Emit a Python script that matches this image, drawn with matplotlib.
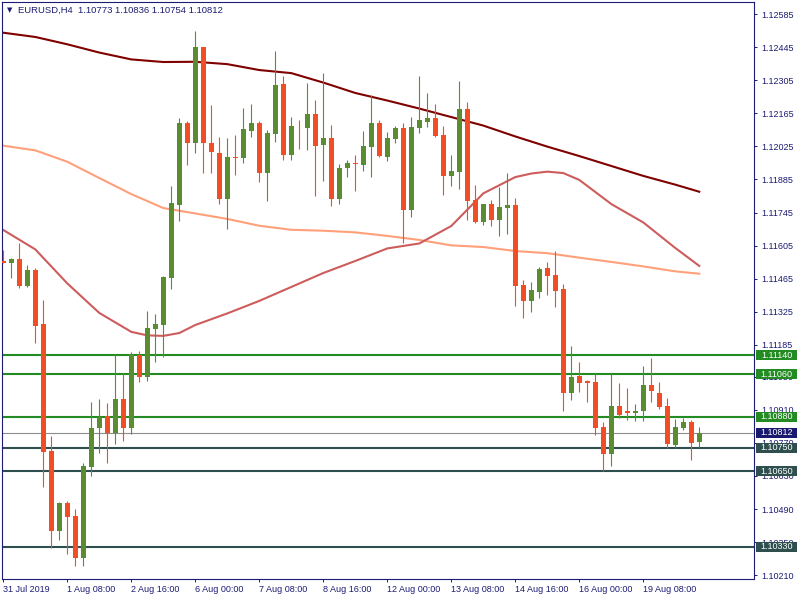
import matplotlib.pyplot as plt
import matplotlib.transforms as mtransforms
from matplotlib.patches import Rectangle

plt.rcParams['font.family'] = ['Liberation Sans', 'DejaVu Sans']

# EURUSD H4 candles, 31 Jul 2019 00:00 onwards
opens = [1.11540, 1.11530, 1.11548, 1.11436, 1.11502, 1.11273, 1.10736, 1.10399, 1.10516, 1.10461,
         1.10281, 1.10670, 1.10831, 1.10884, 1.10811, 1.10956, 1.10831, 1.11142, 1.11050, 1.11253,
         1.11271, 1.11469, 1.11777, 1.12124, 1.12040, 1.12445, 1.12039, 1.11999, 1.11802, 1.11980,
         1.11977, 1.12091, 1.12124, 1.11914, 1.12079, 1.12289, 1.11988, 1.12108, 1.12104, 1.12162,
         1.12032, 1.12060, 1.11804, 1.11933, 1.11953, 1.11945, 1.12024, 1.12124, 1.11982, 1.12057,
         1.12103, 1.11757, 1.12104, 1.12128, 1.12145, 1.12073, 1.11901, 1.11918, 1.12183, 1.11799,
         1.11706, 1.11781, 1.11715, 1.11765, 1.11777, 1.11439, 1.11372, 1.11410, 1.11510, 1.11481,
         1.11422, 1.10983, 1.11053, 1.11032, 1.11028, 1.10838, 1.10725, 1.10926, 1.10907, 1.10898,
         1.10903, 1.11015, 1.10982, 1.10926, 1.10761, 1.10835, 1.10859, 1.10773]
highs = [1.11586, 1.11553, 1.11615, 1.11523, 1.11509, 1.11375, 1.10800, 1.10520, 1.10525, 1.10491,
         1.10687, 1.10945, 1.10956, 1.10938, 1.11145, 1.11065, 1.11156, 1.11159, 1.11329, 1.11316,
         1.11477, 1.11858, 1.12145, 1.12134, 1.12513, 1.12445, 1.12200, 1.12066, 1.12060, 1.12073,
         1.12189, 1.12204, 1.12132, 1.12094, 1.12428, 1.12321, 1.12149, 1.12137, 1.12293, 1.12221,
         1.12335, 1.12115, 1.11950, 1.11969, 1.11990, 1.12090, 1.12242, 1.12137, 1.12087, 1.12111,
         1.12124, 1.12149, 1.12323, 1.12251, 1.12204, 1.12111, 1.11990, 1.12303, 1.12213, 1.11863,
         1.11781, 1.11798, 1.11854, 1.11914, 1.11807, 1.11460, 1.11451, 1.11515, 1.11536, 1.11582,
         1.11443, 1.11180, 1.11113, 1.11036, 1.11060, 1.10859, 1.11060, 1.11025, 1.11003, 1.10935,
         1.11096, 1.11130, 1.11028, 1.10959, 1.10872, 1.10876, 1.10867, 1.10836]
lows = [1.11532, 1.11469, 1.11425, 1.11429, 1.11192, 1.10585, 1.10324, 1.10360, 1.10301, 1.10251,
        1.10251, 1.10632, 1.10729, 1.10687, 1.10765, 1.10776, 1.10807, 1.11029, 1.11032, 1.11114,
        1.11135, 1.11420, 1.11710, 1.11946, 1.11997, 1.11912, 1.11914, 1.11782, 1.11677, 1.11904,
        1.11956, 1.12063, 1.11876, 1.11795, 1.12045, 1.11967, 1.11967, 1.12014, 1.12011, 1.11816,
        1.11880, 1.11774, 1.11782, 1.11897, 1.11837, 1.11922, 1.11894, 1.11982, 1.11964, 1.12040,
        1.11617, 1.11727, 1.12083, 1.12108, 1.12066, 1.11821, 1.11859, 1.11846, 1.11715, 1.11702,
        1.11693, 1.11689, 1.11647, 1.11655, 1.11351, 1.11300, 1.11325, 1.11385, 1.11397, 1.11347,
        1.10907, 1.10952, 1.10986, 1.10944, 1.10805, 1.10649, 1.10674, 1.10876, 1.10867, 1.10864,
        1.10864, 1.10944, 1.10915, 1.10750, 1.10750, 1.10826, 1.10699, 1.10754]
closes = [1.11532, 1.11548, 1.11436, 1.11502, 1.11266, 1.10733, 1.10399, 1.10516, 1.10456, 1.10281,
          1.10673, 1.10833, 1.10881, 1.10811, 1.10956, 1.10831, 1.11147, 1.11050, 1.11257, 1.11273,
          1.11473, 1.11786, 1.12124, 1.12040, 1.12445, 1.12040, 1.12002, 1.11802, 1.11980, 1.11976,
          1.12098, 1.12124, 1.11914, 1.12082, 1.12285, 1.11988, 1.12111, 1.12106, 1.12162, 1.12028,
          1.12060, 1.11804, 1.11933, 1.11955, 1.11949, 1.12027, 1.12124, 1.11985, 1.12060, 1.12103,
          1.11757, 1.12107, 1.12137, 1.12145, 1.12070, 1.11901, 1.11919, 1.12183, 1.11795, 1.11706,
          1.11781, 1.11715, 1.11768, 1.11777, 1.11436, 1.11372, 1.11417, 1.11506, 1.11478, 1.11414,
          1.10983, 1.11049, 1.11025, 1.11025, 1.10835, 1.10725, 1.10926, 1.10890, 1.10898, 1.10907,
          1.11015, 1.10991, 1.10923, 1.10767, 1.10838, 1.10859, 1.10771, 1.10812]

# moving averages, read at a few candles
ma_slow_idx = [0, 4, 8, 12, 16, 20, 24, 28, 32, 36, 40, 44, 48, 52, 56, 60, 64, 68, 72, 76, 80, 84, 87]
ma_slow = [1.12506, 1.12488, 1.12457, 1.12422, 1.12393, 1.12382, 1.12383, 1.12373, 1.12348, 1.12335,
           1.12295, 1.12251, 1.12219, 1.12185, 1.12149, 1.12113, 1.12067, 1.12024, 1.11984, 1.11942,
           1.11900, 1.11863, 1.11833]
ma_mid_idx = ma_slow_idx
ma_mid = [1.12028, 1.12008, 1.11960, 1.11891, 1.11823, 1.11764, 1.11741, 1.11718, 1.11689, 1.11672,
          1.11668, 1.11661, 1.11646, 1.11629, 1.11606, 1.11599, 1.11582, 1.11573, 1.11554, 1.11536,
          1.11517, 1.11496, 1.11486]
ma_fast_idx = [0, 4, 8, 12, 16, 18, 20, 22, 24, 28, 32, 36, 40, 44, 48, 52, 56, 60, 64, 66, 68, 70,
               72, 76, 80, 84, 87]
ma_fast = [1.11671, 1.11589, 1.11445, 1.11320, 1.11240, 1.11225, 1.11223, 1.11235, 1.11269, 1.11318,
           1.11371, 1.11430, 1.11489, 1.11540, 1.11593, 1.11614, 1.11688, 1.11826, 1.11895, 1.11910,
           1.11918, 1.11912, 1.11883, 1.11781, 1.11703, 1.11595, 1.11519]

time_labels = ["31 Jul 2019", "1 Aug 08:00", "2 Aug 16:00", "6 Aug 00:00", "7 Aug 08:00",
               "8 Aug 16:00", "12 Aug 00:00", "13 Aug 08:00", "14 Aug 16:00", "16 Aug 00:00",
               "19 Aug 08:00"]
price_ticks = [1.12585, 1.12445, 1.12305, 1.12165, 1.12025, 1.11885, 1.11745, 1.11605, 1.11465,
               1.11325, 1.11185, 1.11050, 1.10910, 1.10770, 1.10630, 1.10490, 1.10350, 1.10210]
levels = [1.11140, 1.11060, 1.10880, 1.10750, 1.10650, 1.10330]
level_kind = ["res", "res", "res", "sup", "sup", "sup"]
last_price = 1.10812
header = "EURUSD,H4  1.10773 1.10836 1.10754 1.10812"

navy = "#1c1c74"
bull, bear = "#5a8c32", "#f24e26"
kind_col = {"res": "#228b22", "sup": "#2f4f4f"}

fig = plt.figure(figsize=(8, 6), dpi=100)
ax = fig.add_axes([2 / 800, 21 / 600, 752 / 800, 577 / 600])

for i in range(len(opens)):
    o, h, l, c = opens[i], highs[i], lows[i], closes[i]
    col = bull if c >= o else bear
    ax.vlines(i, l, h, color=col, lw=0.8, zorder=3)
    lo = min(o, c)
    ht = max(abs(c - o), 0.00003)
    ax.bar(i, ht, bottom=lo, width=0.6, color=col, lw=0, zorder=3)

ax.plot(ma_slow_idx, ma_slow, color="#800000", lw=1.5, zorder=2)
ax.plot(ma_mid_idx, ma_mid, color="#ffa07a", lw=1.5, zorder=2)
ax.plot(ma_fast_idx, ma_fast, color="#cd5c5c", lw=1.5, zorder=2)

for lv, kd in zip(levels, level_kind):
    ax.axhline(lv, color=kind_col[kd], lw=1.5, zorder=1)
ax.axhline(last_price, color="#8c8c8c", lw=0.8, zorder=1)

ax.set_xlim(-0.1625, 93.84)
ax.set_ylim(1.10194, 1.12636)

ax.set_xticks([8 * j for j in range(len(time_labels))])
ax.set_xticklabels(time_labels, ha="left")
ax.set_yticks(price_ticks)
ax.set_yticklabels([f"{p:.5f}" for p in price_ticks])
ax.yaxis.tick_right()
ax.tick_params(axis="both", colors=navy, labelcolor=navy, labelsize=6.5, length=2.5, width=0.7)
ax.tick_params(axis="y", pad=3)
ax.tick_params(axis="x", pad=2)
for sp in ax.spines.values():
    sp.set_color(navy)
    sp.set_linewidth(0.8)

# price boxes on the right scale
trans = mtransforms.blended_transform_factory(fig.transFigure, ax.transData)
box_h = 10 / 23634
boxes = [(lv, kind_col[kd]) for lv, kd in zip(levels, level_kind)] + [(last_price, "#191970")]
for lv, col in boxes:
    ax.add_patch(Rectangle((756 / 800, lv - box_h / 2), 41 / 800, box_h, transform=trans,
                           facecolor=col, edgecolor="none", clip_on=False, zorder=6))
    ax.text(776.5 / 800, lv, f"{lv:.5f}", transform=trans, color="white", fontsize=6.5,
            ha="center", va="center", clip_on=False, zorder=7)

fig.text(7 / 600 * 0.75, 1 - 10 / 600, "\u25bc", color=navy, fontsize=5, va="center",
         family="DejaVu Sans")
fig.text(18 / 800, 1 - 10 / 600, header, color=navy, fontsize=6.8, va="center")

fig.savefig("out.png", dpi=100, facecolor="white")
